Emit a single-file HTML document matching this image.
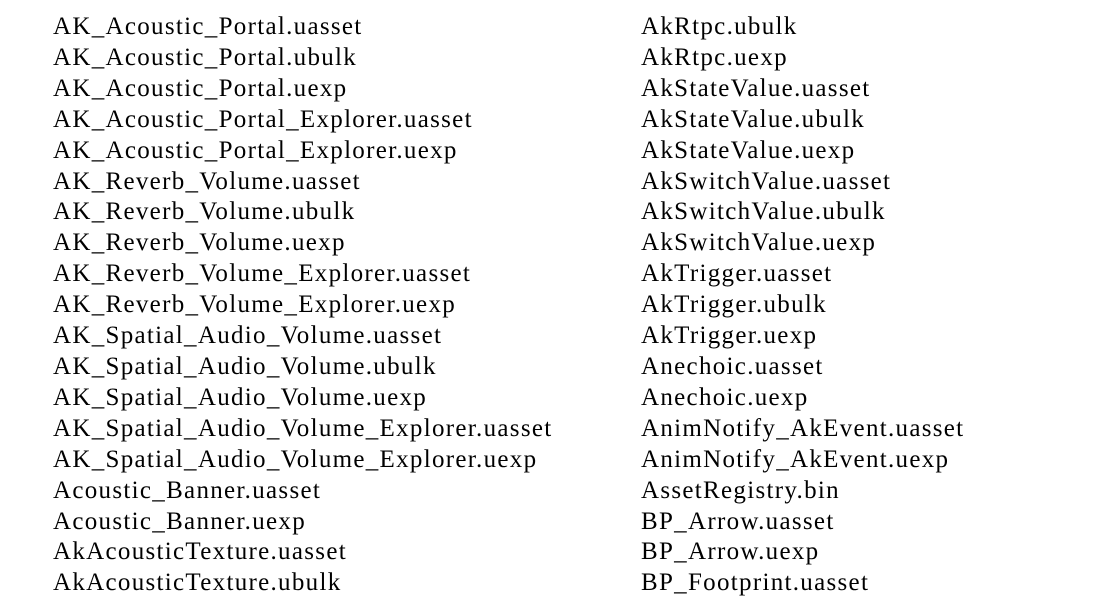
<!DOCTYPE html>
<html><head><meta charset="utf-8"><style>
html,body{margin:0;padding:0;background:#fff;width:1112px;height:602px;overflow:hidden}
.col{position:absolute;top:12px;font-family:"Liberation Serif",serif;font-size:25px;letter-spacing:1.3px;line-height:30.9px;color:#000;white-space:nowrap}
.l{left:53px}.r{left:641px}
</style></head><body>
<div class="col l">
AK_Acoustic_Portal.uasset<br>
AK_Acoustic_Portal.ubulk<br>
AK_Acoustic_Portal.uexp<br>
AK_Acoustic_Portal_Explorer.uasset<br>
AK_Acoustic_Portal_Explorer.uexp<br>
AK_Reverb_Volume.uasset<br>
AK_Reverb_Volume.ubulk<br>
AK_Reverb_Volume.uexp<br>
AK_Reverb_Volume_Explorer.uasset<br>
AK_Reverb_Volume_Explorer.uexp<br>
AK_Spatial_Audio_Volume.uasset<br>
AK_Spatial_Audio_Volume.ubulk<br>
AK_Spatial_Audio_Volume.uexp<br>
AK_Spatial_Audio_Volume_Explorer.uasset<br>
AK_Spatial_Audio_Volume_Explorer.uexp<br>
Acoustic_Banner.uasset<br>
Acoustic_Banner.uexp<br>
AkAcousticTexture.uasset<br>
AkAcousticTexture.ubulk
</div>
<div class="col r">
AkRtpc.ubulk<br>
AkRtpc.uexp<br>
AkStateValue.uasset<br>
AkStateValue.ubulk<br>
AkStateValue.uexp<br>
AkSwitchValue.uasset<br>
AkSwitchValue.ubulk<br>
AkSwitchValue.uexp<br>
AkTrigger.uasset<br>
AkTrigger.ubulk<br>
AkTrigger.uexp<br>
Anechoic.uasset<br>
Anechoic.uexp<br>
AnimNotify_AkEvent.uasset<br>
AnimNotify_AkEvent.uexp<br>
AssetRegistry.bin<br>
BP_Arrow.uasset<br>
BP_Arrow.uexp<br>
BP_Footprint.uasset
</div>
</body></html>
